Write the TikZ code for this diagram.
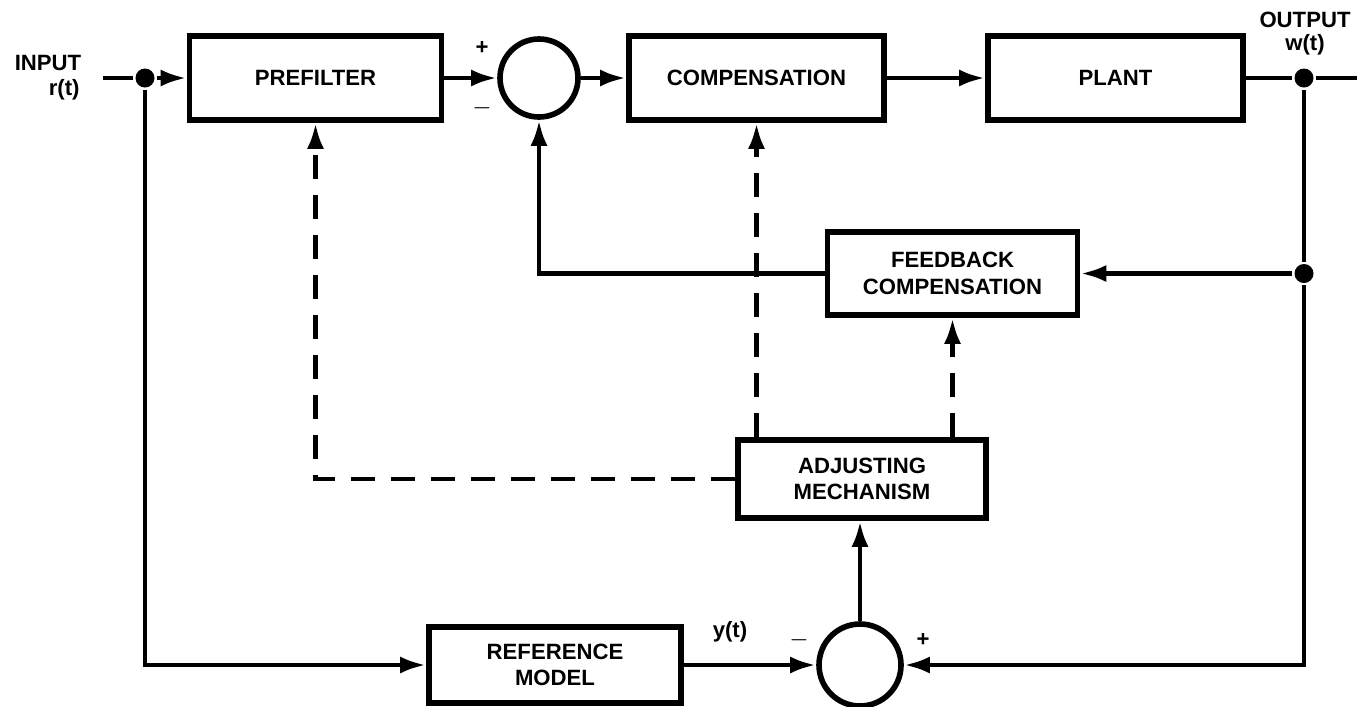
\documentclass[tikz,border=0pt]{standalone}
\usepackage{fontspec}
\setsansfont{Liberation Sans}
\usetikzlibrary{arrows.meta}

\begin{document}
\begin{tikzpicture}[line width=1.4pt,
	font=\sffamily\bfseries\fontsize{6.3}{7.6}\selectfont,
	blk/.style={draw, line width=1.6pt, align=center, inner sep=0pt},
	sumc/.style={draw, circle, line width=1.6pt, minimum size=7.8mm, inner sep=0pt},
	dot/.style={circle, fill, minimum size=1.9mm, inner sep=0pt},
	sig/.style={-{Latex[length=2.6mm,width=1.7mm]}},
	tune/.style={dash pattern=on 2.4mm off 1.6mm}]
	\useasboundingbox (0,0) rectangle (13.57,7.06);
	% forward path
	\node[blk, minimum width=2.52cm, minimum height=0.84cm] (pre) at (3.155,6.28) {PREFILTER};
	\node[sumc] (sum1) at (5.39,6.28) {};
	\node[blk, minimum width=2.55cm, minimum height=0.84cm] (comp) at (7.565,6.28) {COMPENSATION};
	\node[blk, minimum width=2.55cm, minimum height=0.84cm] (plant) at (11.155,6.28) {PLANT};
	\node[blk, minimum width=2.5cm, minimum height=0.83cm] (fb) at (9.525,4.325) {FEEDBACK\\COMPENSATION};
	\node[blk, minimum width=2.48cm, minimum height=0.78cm] (adj) at (8.62,2.27) {ADJUSTING\\MECHANISM};
	\node[blk, minimum width=2.52cm, minimum height=0.76cm] (ref) at (5.55,0.41) {REFERENCE\\MODEL};
	\node[sumc, minimum size=8.2mm] (sum2) at (8.6,0.41) {};
	\coordinate (in) at (1.03,6.28);
	\node[dot] (j1) at (1.45,6.28) {};
	\node[dot] (j2) at (13.04,6.28) {};
	\node[dot] (j3) at (13.04,4.325) {};
	\coordinate (out) at (13.57,6.28);
	% labels
	\node (inlbl) at (0.48,6.43) {INPUT};
	\node[anchor=east, inner sep=0pt] (rlbl) at (0.82,6.16) {r(t)};
	\node (outlbl) at (13.05,6.86) {OUTPUT};
	\node (wlbl) at (13.05,6.61) {w(t)};
	\node (p1) at (4.82,6.58) {+};
	\node (m1) at (4.82,5.98) {$-$};
	\node (ylbl) at (7.3,0.74) {y(t)};
	\node (m2) at (7.99,0.66) {$-$};
	\node (p2) at (9.23,0.66) {+};
	% connectors
	\draw (in) -- (j1);
	\draw[sig] (j1) -- (pre);
	\draw[sig] (pre) -- (sum1);
	\draw[sig] (sum1) -- (comp);
	\draw[sig] (comp) -- (plant);
	\draw (plant) -- (j2) -- (out);
	\draw (j2) -- (j3);
	\draw[sig] (j3) -- (fb);
	\draw[sig] (fb.west) -| (sum1.south);
	\draw[sig] (j1) |- (ref.west);
	\draw[sig] (ref) -- (sum2);
	\draw[sig] (j3) |- (sum2.east);
	\draw[sig] (sum2.north) -- (sum2.north |- adj.south);
	% adjustment signals
	\draw[sig, tune] (adj.west) -| (pre.south);
	\draw[sig, tune] (comp.south |- adj.north) -- (comp.south);
	\draw[sig, tune] (fb.south |- adj.north) -- (fb.south);
\end{tikzpicture}
\end{document}
